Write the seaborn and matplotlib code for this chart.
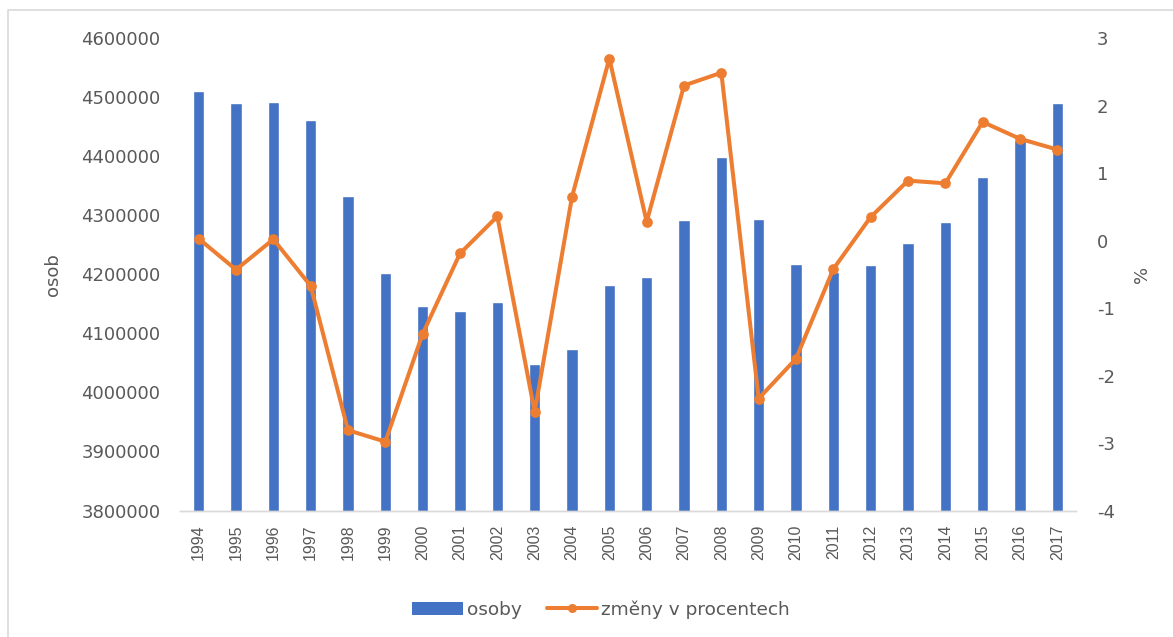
import matplotlib
matplotlib.use("Agg")
import matplotlib.pyplot as plt
from matplotlib.lines import Line2D
from matplotlib.patches import Patch
import seaborn as sns
import pandas as pd

# Employed persons per year and year-on-year change in percent
years = ["1994", "1995", "1996", "1997", "1998", "1999", "2000", "2001",
         "2002", "2003", "2004", "2005", "2006", "2007", "2008", "2009",
         "2010", "2011", "2012", "2013", "2014", "2015", "2016", "2017"]
osoby = [4510700, 4489800, 4492500, 4461500, 4333200, 4202700, 4146300, 4138300,
         4153600, 4047500, 4072900, 4181800, 4195400, 4291500, 4398800, 4294300,
         4218000, 4204000, 4216300, 4253000, 4289200, 4364400, 4427600, 4489800]
zmeny = [0.03, -0.43, 0.02, -0.67, -2.81, -2.98, -1.38, -0.19,
         0.36, -2.54, 0.65, 2.70, 0.28, 2.30, 2.49, -2.34,
         -1.75, -0.42, 0.35, 0.89, 0.85, 1.76, 1.51, 1.35]
left_ticks = [3800000, 3900000, 4000000, 4100000, 4200000, 4300000, 4400000, 4500000, 4600000]
right_ticks = [-4, -3, -2, -1, 0, 1, 2, 3]

df = pd.DataFrame({"rok": years, "osoby": osoby, "zmeny": zmeny})

sns.set_theme(style="white")
BLUE = "#4472C4"
ORANGE = "#ED7D31"
GREY_TXT = "#595959"
NARROW = ["Liberation Sans", "DejaVu Sans"]

fig = plt.figure(figsize=(11.73, 6.37), dpi=100)
ax1 = fig.add_axes([180 / 1173, 1 - 510.5 / 637, (1076 - 180) / 1173, (510.5 - 38.3) / 637])

sns.barplot(data=df, x="rok", y="osoby", color=BLUE, saturation=1, width=0.3, ax=ax1)
ax1.set_ylim(left_ticks[0], left_ticks[-1])
ax1.set_yticks(left_ticks)
ax1.set_yticklabels([str(v) for v in left_ticks], fontsize=13, color=GREY_TXT)
ax1.set_xlabel("")
ax1.set_ylabel("osob", fontsize=13, color=GREY_TXT, labelpad=14)
ax1.tick_params(axis="y", length=0, pad=14)
ax1.tick_params(axis="x", length=0, pad=10)
for lab in ax1.get_xticklabels():
    lab.set_rotation(90)
    lab.set_fontsize(11.5)
    lab.set_family(NARROW)
    lab.set_color(GREY_TXT)

ax2 = ax1.twinx()
sns.pointplot(data=df, x="rok", y="zmeny", color=ORANGE, markers="o",
              linestyles="-", linewidth=2.9, markersize=5.5, ax=ax2)
ax2.set_ylim(right_ticks[0], right_ticks[-1])
ax2.set_yticks(right_ticks)
ax2.set_yticklabels([str(v) for v in right_ticks], fontsize=13, color=GREY_TXT)
ax2.set_ylabel("%", fontsize=13, color=GREY_TXT, labelpad=13)
ax2.tick_params(axis="y", length=0, pad=15)
ax2.set_xlim(ax1.get_xlim())

for ax in (ax1, ax2):
    for side in ("top", "left", "right"):
        ax.spines[side].set_visible(False)
    ax.spines["bottom"].set_color("#D9D9D9")
    ax.spines["bottom"].set_linewidth(1)
    ax.grid(False)

handles = [Patch(facecolor=BLUE, edgecolor="none", label="osoby"),
           Line2D([0], [0], color=ORANGE, lw=2.9, marker="o", markersize=5.5,
                  label="změny v procentech")]
fig.legend(handles=handles, loc="center", bbox_to_anchor=(0.5125, 0.043), ncol=2,
           frameon=False, fontsize=13.3, labelcolor=GREY_TXT, handlelength=2.75,
           handletextpad=0.2, columnspacing=1.35)

# light frame around the chart area
fig.add_artist(Line2D([8 / 1173, 8 / 1173, 1.0], [0.0, 1 - 10 / 637, 1 - 10 / 637],
                      transform=fig.transFigure, color="#D9D9D9", lw=1.2))

fig.savefig("out.png", dpi=100)
